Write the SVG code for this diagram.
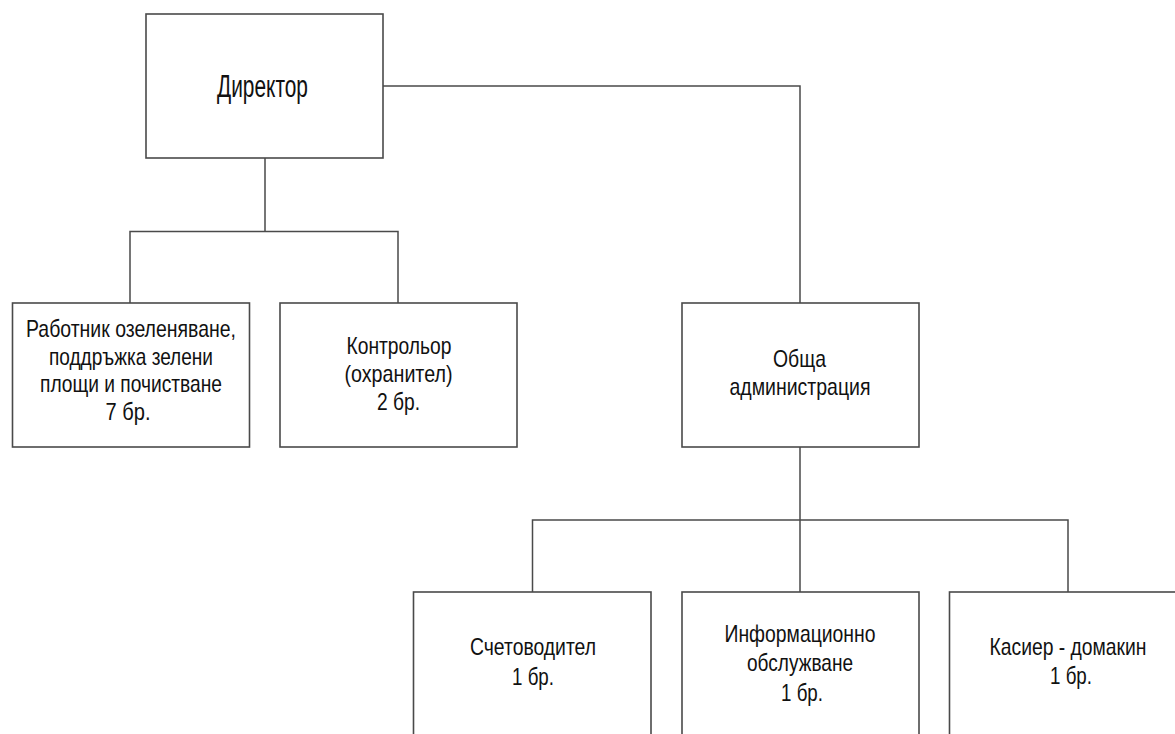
<svg xmlns="http://www.w3.org/2000/svg" width="1175" height="734" viewBox="0 0 1175 734">
<style>
.box{fill:#fff;stroke:#4a4a4a;stroke-width:1.6}
.con{fill:none;stroke:#4a4a4a;stroke-width:1.5}
text{font-family:"Liberation Sans Narrow","Liberation Sans",Arial,sans-serif;font-size:24px;fill:#111;text-anchor:middle}
.big{font-size:31px}
</style>
<rect width="1175" height="734" fill="#fff"/>
<g id="connectors">
<path class="con" d="M383,86 H800 V303"/>
<path class="con" d="M265,158 V231.5 M130,303 V231.5 H398 V303"/>
<path class="con" d="M800,447 V592 M532.5,592 V520 H1068 V592"/>
</g>
<g id="director">
<rect class="box" x="146" y="14" width="237" height="144"/>
<text class="big" x="262.5" y="97" textLength="91" lengthAdjust="spacingAndGlyphs">Директор</text>
</g>
<g id="rabotnik">
<rect class="box" x="12.5" y="303" width="237" height="144"/>
<text x="131" y="337" textLength="210" lengthAdjust="spacingAndGlyphs">Работник озеленяване,</text>
<text x="131" y="364.5" textLength="164" lengthAdjust="spacingAndGlyphs">поддръжка зелени</text>
<text x="131" y="392" textLength="182" lengthAdjust="spacingAndGlyphs">площи и почистване</text>
<text x="128" y="420" textLength="45" lengthAdjust="spacingAndGlyphs">7 бр.</text>
</g>
<g id="kontrolor">
<rect class="box" x="280" y="303" width="237" height="144"/>
<text x="399" y="354" textLength="105" lengthAdjust="spacingAndGlyphs">Контрольор</text>
<text x="398.5" y="382" textLength="108" lengthAdjust="spacingAndGlyphs">(охранител)</text>
<text x="398.5" y="410" textLength="43" lengthAdjust="spacingAndGlyphs">2 бр.</text>
</g>
<g id="obshta">
<rect class="box" x="682" y="303" width="237" height="144"/>
<text x="799.5" y="367" textLength="53" lengthAdjust="spacingAndGlyphs">Обща</text>
<text x="800" y="395" textLength="141" lengthAdjust="spacingAndGlyphs">администрация</text>
</g>
<g id="schetovoditel">
<rect class="box" x="413.5" y="592" width="237.5" height="200"/>
<text x="533" y="655" textLength="126" lengthAdjust="spacingAndGlyphs">Счетоводител</text>
<text x="533" y="685" textLength="42" lengthAdjust="spacingAndGlyphs">1 бр.</text>
</g>
<g id="informacionno">
<rect class="box" x="682" y="592" width="237" height="200"/>
<text x="800" y="642" textLength="151" lengthAdjust="spacingAndGlyphs">Информационно</text>
<text x="800" y="671" textLength="106" lengthAdjust="spacingAndGlyphs">обслужване</text>
<text x="802" y="701" textLength="42" lengthAdjust="spacingAndGlyphs">1 бр.</text>
</g>
<g id="kasier">
<rect class="box" x="949.5" y="592" width="237" height="200"/>
<text x="1068" y="655" textLength="157" lengthAdjust="spacingAndGlyphs">Касиер - домакин</text>
<text x="1071" y="684" textLength="42" lengthAdjust="spacingAndGlyphs">1 бр.</text>
</g>
</svg>
